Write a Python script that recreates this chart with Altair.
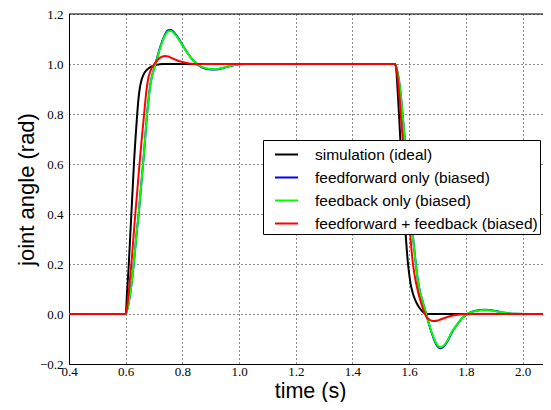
import altair as alt
import pandas as pd

# ---- data ----
series_names = [
    "simulation (ideal)",
    "feedforward only (biased)",
    "feedback only (biased)",
    "feedforward + feedback (biased)",
]
series_colors = ["#000000", "#0000ff", "#00ff00", "#ff0000"]

t_start = [0.4]
t_rise = [0.600, 0.605, 0.610, 0.615, 0.620, 0.625, 0.630, 0.635, 0.640, 0.645,
          0.650, 0.655, 0.660, 0.665, 0.670, 0.675, 0.680, 0.685, 0.690, 0.695,
          0.700, 0.705, 0.710, 0.715, 0.720, 0.730, 0.740, 0.750, 0.760, 0.770,
          0.780, 0.790, 0.800, 0.820, 0.840, 0.860, 0.880, 0.900, 0.920, 0.940,
          0.960, 0.980, 1.000, 1.020]
t_fall = [1.550, 1.555, 1.560, 1.565, 1.570, 1.575, 1.580, 1.585, 1.590, 1.595,
          1.600, 1.605, 1.610, 1.615, 1.620, 1.625, 1.630, 1.635, 1.640, 1.645,
          1.650, 1.655, 1.660, 1.665, 1.670, 1.680, 1.690, 1.700, 1.710, 1.720,
          1.730, 1.740, 1.750, 1.770, 1.790, 1.810, 1.830, 1.850, 1.870, 1.890,
          1.910, 1.930, 1.950, 1.970]
t_end = [2.1]

black_rise = [0.0, 0.09, 0.18, 0.29, 0.40, 0.51, 0.62, 0.71, 0.79, 0.86,
              0.905, 0.932, 0.95, 0.962, 0.971, 0.977, 0.982, 0.986, 0.989, 0.992,
              0.994, 0.996, 0.997, 0.998, 0.999, 1.0, 1.0, 1.0, 1.0, 1.0,
              1.0, 1.0, 1.0, 1.0, 1.0, 1.0, 1.0, 1.0, 1.0, 1.0,
              1.0, 1.0, 1.0, 1.0]
black_fall = [1.0, 0.97, 0.88, 0.78, 0.67, 0.56, 0.45, 0.36, 0.28, 0.21,
              0.16, 0.12, 0.095, 0.075, 0.06, 0.047, 0.036, 0.027, 0.019, 0.012,
              0.007, 0.003, 0.001, 0.0, 0.0, 0.0, 0.0, 0.0, 0.0, 0.0,
              0.0, 0.0, 0.0, 0.0, 0.0, 0.0, 0.0, 0.0, 0.0, 0.0,
              0.0, 0.0, 0.0, 0.0]

blue_rise = [0.0, 0.015, 0.04, 0.075, 0.115, 0.165, 0.22, 0.28, 0.34, 0.39,
             0.455, 0.52, 0.585, 0.65, 0.725, 0.795, 0.852, 0.902, 0.937, 0.962,
             0.982, 1.001, 1.021, 1.042, 1.062, 1.095, 1.121, 1.135, 1.136, 1.127,
             1.113, 1.096, 1.077, 1.041, 1.012, 0.992, 0.982, 0.978, 0.978, 0.983,
             0.989, 0.995, 0.999, 1.0]
blue_fall = [1.0, 0.985, 0.96, 0.925, 0.88, 0.82, 0.755, 0.69, 0.62, 0.55,
             0.48, 0.41, 0.345, 0.29, 0.235, 0.185, 0.14, 0.105, 0.08, 0.06,
             0.04, 0.02, 0.0, -0.021, -0.042, -0.078, -0.109, -0.129, -0.137, -0.132,
             -0.118, -0.098, -0.075, -0.041, -0.013, 0.003, 0.012, 0.016, 0.017, 0.015,
             0.011, 0.006, 0.003, 0.001]

green_rise = [0.0, 0.015, 0.04, 0.075, 0.115, 0.165, 0.22, 0.28, 0.34, 0.39,
              0.455, 0.52, 0.585, 0.65, 0.725, 0.795, 0.85, 0.9, 0.935, 0.96,
              0.98, 0.999, 1.018, 1.038, 1.058, 1.092, 1.117, 1.131, 1.132, 1.124,
              1.11, 1.093, 1.075, 1.04, 1.012, 0.993, 0.984, 0.98, 0.98, 0.984,
              0.99, 0.995, 0.999, 1.0]
green_fall = [1.0, 0.985, 0.96, 0.925, 0.88, 0.82, 0.755, 0.69, 0.62, 0.55,
              0.48, 0.41, 0.345, 0.29, 0.235, 0.185, 0.14, 0.105, 0.08, 0.06,
              0.04, 0.02, 0.0, -0.02, -0.04, -0.075, -0.105, -0.125, -0.133, -0.128,
              -0.115, -0.095, -0.072, -0.04, -0.012, 0.003, 0.011, 0.015, 0.016, 0.014,
              0.01, 0.006, 0.003, 0.001]

red_rise = [0.0, 0.03, 0.08, 0.14, 0.2, 0.27, 0.345, 0.415, 0.48, 0.55,
            0.615, 0.68, 0.74, 0.8, 0.86, 0.91, 0.945, 0.965, 0.98, 0.99,
            0.998, 1.006, 1.013, 1.019, 1.024, 1.03, 1.032, 1.03, 1.025, 1.02,
            1.015, 1.011, 1.008, 1.003, 1.0, 0.999, 1.0, 1.0, 1.0, 1.0,
            1.0, 1.0, 1.0, 1.0]
red_fall = [1.0, 0.98, 0.94, 0.88, 0.8, 0.73, 0.665, 0.595, 0.52, 0.445,
            0.37, 0.3, 0.235, 0.185, 0.15, 0.12, 0.095, 0.072, 0.052, 0.033,
            0.016, 0.002, -0.01, -0.017, -0.022, -0.027, -0.028, -0.026, -0.022, -0.018,
            -0.014, -0.01, -0.007, -0.003, -0.001, 0.0, 0.0, 0.0, 0.0, 0.0,
            0.0, 0.0, 0.0, 0.0]

rises = [black_rise, blue_rise, green_rise, red_rise]
falls = [black_fall, blue_fall, green_fall, red_fall]

rows = []
for i, name in enumerate(series_names):
    ts = t_start + t_rise + t_fall + t_end
    ys = [0.0] + rises[i] + falls[i] + [0.0]
    for t, y in zip(ts, ys):
        rows.append({"t": t, "y": y, "series": name, "order": i})
df = pd.DataFrame(rows)

x_ticks = [0.4, 0.6, 0.8, 1.0, 1.2, 1.4, 1.6, 1.8, 2.0]
y_ticks = [-0.2, 0.0, 0.2, 0.4, 0.6, 0.8, 1.0, 1.2]
x_domain = [0.4, 2.072]   # the reference's frame is cut at the right edge of the picture
y_domain = [-0.2, 1.2]

x_enc = alt.X("t:Q", scale=alt.Scale(domain=x_domain, nice=False, zero=False),
              axis=alt.Axis(title="time (s)", values=x_ticks, format=".1f",
                            labelFlush=False, titleX=241, titleY=33,
                            titleBaseline="alphabetic", titleFontSize=21.5))
y_enc = alt.Y("y:Q", scale=alt.Scale(domain=y_domain, nice=False, zero=False),
              axis=alt.Axis(title="joint angle (rad)", values=y_ticks, format=".1f"))

lines = alt.Chart(df).mark_line(strokeWidth=2, interpolate="monotone", clip=True).encode(
    x=x_enc,
    y=y_enc,
    color=alt.Color("series:N",
                    scale=alt.Scale(domain=series_names, range=series_colors),
                    legend=alt.Legend(title=None, orient="none", legendX=194, legendY=126,
                                      symbolType="stroke", symbolSize=529,
                                      symbolStrokeWidth=2, labelOffset=16,
                                      symbolOffset=9, padding=2, rowPadding=2,
                                      strokeColor="#000000", fillColor="#ffffff",
                                      labelFont="Liberation Sans", labelFontSize=15.5,
                                      labelColor="#000000", labelLimit=400)),
    order=alt.Order("order:Q"),
    detail="series:N",
)

top_frame = alt.Chart(pd.DataFrame({"y": [y_domain[1]]})).mark_rule(
    color="#000000", strokeWidth=1
).encode(y=alt.Y("y:Q", scale=alt.Scale(domain=y_domain, nice=False, zero=False)))

chart = alt.layer(lines, top_frame).properties(
    width=474, height=350,
    autosize=alt.AutoSizeParams(type="none"),
    padding={"left": 61, "top": 6, "right": 0, "bottom": 38},
).configure_view(
    stroke=None,
).configure_axis(
    grid=True, gridColor="#000000", gridDash=[1, 3], gridWidth=1, gridOpacity=0.9,
    domain=True, domainColor="#000000", domainWidth=1, ticks=False,
    labelFont="Liberation Serif", labelFontSize=13, labelColor="#000000",
    titleFont="Liberation Sans", titleFontSize=22, titleFontWeight="normal",
    titleColor="#000000",
).configure_axisX(
    labelPadding=1,
).configure_axisY(
    labelPadding=6, titlePadding=1,
)

chart.save("out.html", embed_options={"renderer": "svg", "actions": False})
